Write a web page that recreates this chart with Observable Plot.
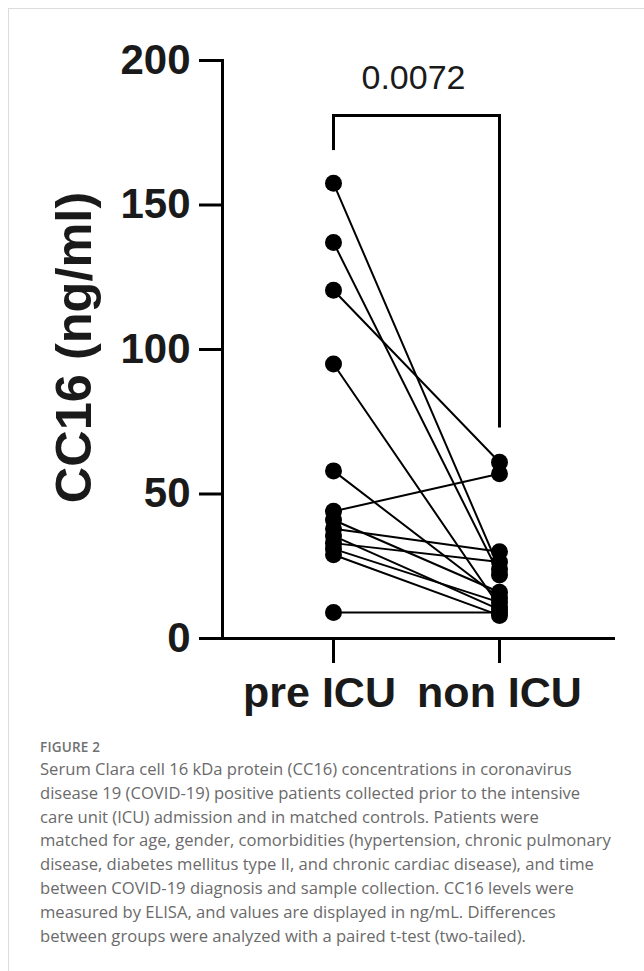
<!DOCTYPE html>
<html>
<head>
<meta charset="utf-8">
<script src="https://cdn.jsdelivr.net/npm/d3@7"></script>
<script src="https://cdn.jsdelivr.net/npm/@observablehq/plot@0.6"></script>
<style>
  html, body { margin: 0; padding: 0; background: #fff; }
  body { width: 644px; height: 971px; position: relative; overflow: hidden; }
  #frame { position: absolute; left: 8px; top: 8px; width: 640px; height: 970px;
           border-top: 1px solid #dcdcdc; border-left: 1px solid #dcdcdc; }
  #chart { position: absolute; left: 0; top: 0; }
  #caption { position: absolute; left: 40px; top: 737px; font-family: "Open Sans", sans-serif;
             color: #666; white-space: nowrap; }
  #caption .fig { font-size: 13.5px; font-weight: 600; letter-spacing: 0.2px; line-height: 20px; color: #707070; }
  #caption .txt { font-size: 16.6px; line-height: 23.8px; font-weight: 400; letter-spacing: 0; color: #6a6a6a; }
</style>
</head>
<body>
<div id="frame"></div>
<div id="chart"></div>
<div id="caption">
  <div class="fig">FIGURE 2</div>
  <div class="txt">Serum Clara cell 16 kDa protein (CC16) concentrations in coronavirus<br>disease 19 (COVID-19) positive patients collected prior to the intensive<br>care unit (ICU) admission and in matched controls. Patients were<br>matched for age, gender, comorbidities (hypertension, chronic pulmonary<br>disease, diabetes mellitus type II, and chronic cardiac disease), and time<br>between COVID-19 diagnosis and sample collection. CC16 levels were<br>measured by ELISA, and values are displayed in ng/mL. Differences<br>between groups were analyzed with a paired t-test (two-tailed).</div>
</div>
<script>
// ---- data ----
const groups = ["pre ICU", "non ICU"];
const preICU = [157.5, 137, 120.5, 95, 58, 44, 41, 38, 35.5, 33, 31, 29, 9];
const nonICU = [24, 22, 61, 11, 14, 57, 16, 30, 10, 26.5, 12.5, 8, 9];
const yTicks = [0, 50, 100, 150, 200];
const yLabel = "CC16 (ng/ml)";
const pValue = "0.0072";
const bracketTop = 181;
const bracketLeftEnd = 169;
const bracketRightEnd = 73;

// ---- build long table ----
const rows = [];
preICU.forEach((v, i) => {
  rows.push({ id: i, group: groups[0], value: v });
  rows.push({ id: i, group: groups[1], value: nonICU[i] });
});

const FONT = "'Liberation Sans', Arial, Helvetica, sans-serif";
const xLabelStyle = { frameAnchor: "bottom", dy: 68, fontSize: 43, fontWeight: "bold", fill: "#1a1a1a", text: d => d };

const chart = Plot.plot({
  width: 644,
  height: 730,
  marginLeft: 222,
  marginRight: 31,
  marginTop: 60,
  marginBottom: 92,
  style: { background: "transparent", overflow: "visible", fontFamily: FONT },
  x: { type: "point", domain: groups, range: [333, 499], padding: 0 },
  y: { domain: [0, 200], range: [638, 60] },
  marks: [
    Plot.frame({ anchor: "left", stroke: "#000", strokeWidth: 3, strokeLinecap: "square" }),
    Plot.frame({ anchor: "bottom", stroke: "#000", strokeWidth: 3 }),
    Plot.axisY(yTicks, {
      anchor: "left", tickSize: 23, tickPadding: 9, strokeWidth: 3,
      fontSize: 42, fontWeight: "bold", fill: "#1a1a1a", label: null
    }),
    Plot.axisX({
      anchor: "bottom", tickSize: 25, strokeWidth: 3, tickFormat: () => "", label: null
    }),
    Plot.text([groups[0]], { ...xLabelStyle, x: d => d, dx: -14 }),
    Plot.text([groups[1]], { ...xLabelStyle, x: d => d, dx: 0 }),
    Plot.text([yLabel], {
      frameAnchor: "left", textAnchor: "middle", rotate: -90, dx: -148, dy: -2, text: d => d,
      fontSize: 50.5, fontWeight: "bold", fill: "#1a1a1a"
    }),
    Plot.line(rows, { x: "group", y: "value", z: "id", stroke: "#000", strokeWidth: 2 }),
    Plot.dot(rows, { x: "group", y: "value", r: 8.5, fill: "#000", stroke: null }),
    // significance bracket
    Plot.link([0], { x1: () => groups[0], x2: () => groups[1], y1: () => bracketTop, y2: () => bracketTop,
      stroke: "#000", strokeWidth: 3, strokeLinecap: "square" }),
    Plot.link([0], { x1: () => groups[0], x2: () => groups[0], y1: () => bracketTop, y2: () => bracketLeftEnd,
      stroke: "#000", strokeWidth: 3 }),
    Plot.link([0], { x1: () => groups[1], x2: () => groups[1], y1: () => bracketTop, y2: () => bracketRightEnd,
      stroke: "#000", strokeWidth: 3 }),
    Plot.text([pValue], { x: () => groups[0], y: () => bracketTop, dx: 80, dy: -37, text: d => d,
      fontSize: 34, fill: "#1a1a1a" })
  ]
});
document.getElementById("chart").appendChild(chart);
</script>
</body>
</html>
